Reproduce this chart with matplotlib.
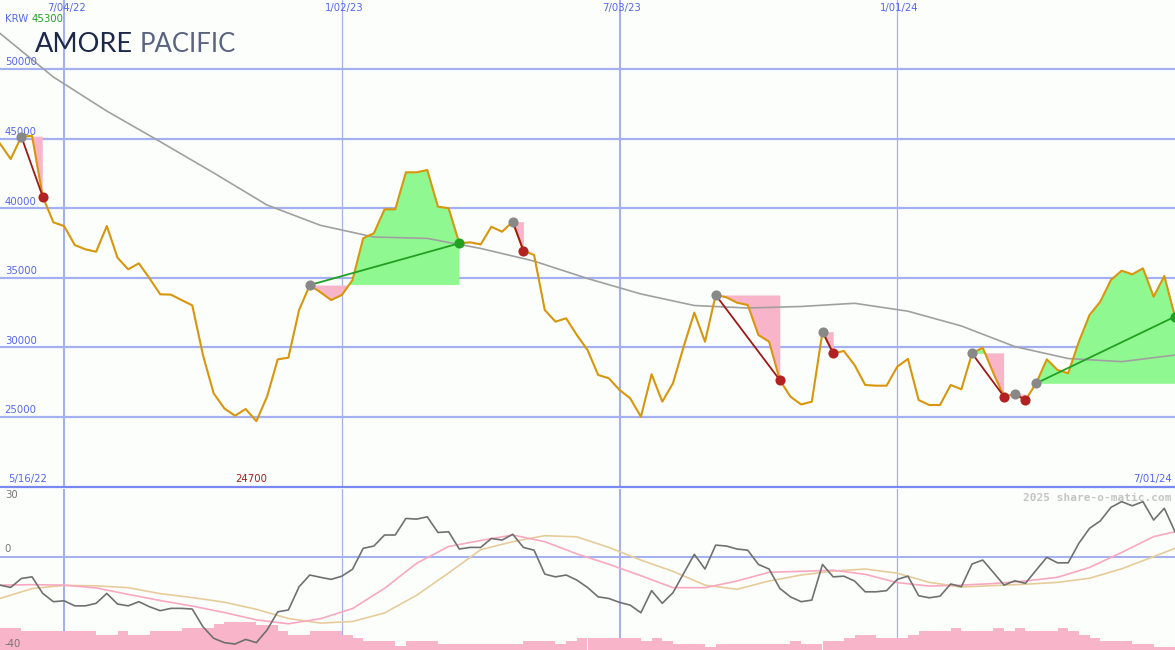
import numpy as np
import pandas as pd
import matplotlib
matplotlib.use("Agg")
import matplotlib.pyplot as plt
from matplotlib.lines import Line2D

# weekly closes, starting Monday 5/23/22
start = "2022-05-23"
price = [44640, 43535, 45140, 45200, 40830, 38985, 38720, 37356, 37045, 36875,
         38720, 36445, 35610, 36040, 34960, 33815, 33790, 33400, 33020, 29450,
         26700, 25620, 25090, 25575, 24700, 26460, 29140, 29260, 32690, 34480,
         33960, 33400, 33765, 34840, 37840, 38200, 39920, 39920, 42580, 42580,
         42745, 40110, 40000, 37480, 37550, 37400, 38670, 38310, 39030, 36950,
         36640, 32690, 31850, 32090, 30890, 29815, 28020, 27780, 26940, 26340,
         25020, 28070, 26100, 27420, 30050, 32500, 30410, 33765, 33600, 33210,
         33045, 30890, 30410, 27660, 26460, 25900, 26100, 31130, 29570, 29740,
         28735, 27300, 27250, 27250, 28620, 29170, 26220, 25860, 25860, 27300,
         26990, 29570, 29980, 28140, 26460, 26650, 26220, 27420, 29140, 28380,
         28140, 30410, 32330, 33280, 34840, 35510, 35250, 35680, 33640, 35130,
         32210]

# long moving average (read every 5 weeks)
ma_weeks = [0, 5, 10, 15, 20, 25, 30, 35, 40, 45, 50, 55, 60, 65, 70, 75,
            80, 85, 90, 95, 100, 105, 110]
ma_vals = [52565, 49425, 46980, 44780, 42540, 40230, 38770, 37930, 37830,
           37110, 36200, 34950, 33840, 33010, 32830, 32940, 33170, 32600,
           31540, 30060, 29200, 28975, 29450]

# trades: entry week / exit week
trade_entry = [2, 29, 48, 67, 77, 91, 95, 97]
trade_exit = [4, 43, 49, 73, 78, 94, 96, 110]

# lower panel oscillator
osc = [-12.2, -13.2, -9.3, -8.6, -15.8, -19.4, -19.0, -21.2, -21.2, -20.1,
       -15.8, -20.4, -21.2, -19.4, -21.6, -23.3, -22.3, -22.3, -22.6, -30.3,
       -35.3, -37.2, -37.8, -35.8, -37.2, -31.7, -23.8, -23.0, -12.9, -7.8,
       -8.8, -9.7, -8.3, -5.3, 3.8, 4.8, 9.6, 9.6, 16.8, 16.5,
       17.5, 10.7, 11.0, 3.5, 4.2, 4.2, 8.1, 7.4, 9.9, 4.2,
       3.0, -7.4, -8.6, -7.8, -10.0, -13.2, -17.3, -18.0, -19.7, -20.9,
       -24.2, -14.6, -20.1, -15.5, -7.1, 1.2, -5.2, 5.2, 4.8, 3.5,
       3.0, -3.2, -5.2, -13.6, -17.3, -19.4, -18.7, -3.2, -8.6, -8.3,
       -10.4, -15.1, -15.1, -14.6, -9.7, -8.3, -16.8, -17.7, -17.0, -11.7,
       -12.9, -3.0, -1.3, -6.7, -12.2, -10.3, -11.4, -5.7, -0.1, -2.5,
       -2.5, 6.0, 12.5, 15.7, 21.6, 24.1, 22.3, 24.1, 16.1, 21.2, 11.0]

sig_weeks = [0, 3, 6, 9, 12, 15, 18, 21, 24, 27, 30, 33, 36, 39, 42, 45, 48,
             51, 54, 57, 60, 63, 66, 69, 72, 75, 78, 81, 84, 87, 90, 93, 96,
             99, 102, 105, 108, 110]
sig_pink = [-12.2, -12.0, -12.2, -13.4, -16.2, -18.9, -21.3, -24.1, -27.3,
            -29.0, -26.8, -22.4, -13.6, -2.7, 4.6, 7.2, 9.6, 6.7, 1.4, -3.1,
            -8.1, -13.3, -13.3, -10.4, -6.6, -6.2, -5.7, -7.5, -11.1, -12.6,
            -12.2, -11.5, -10.4, -8.8, -4.5, 2.0, 8.9, 11.0]
sig_tan = [-18.0, -13.7, -12.3, -12.5, -13.3, -15.9, -17.6, -19.6, -22.7,
           -26.7, -28.7, -28.0, -24.3, -16.6, -6.9, 3.2, 6.7, 9.3, 8.8, 4.2,
           -1.3, -6.2, -12.2, -14.0, -10.4, -7.8, -6.1, -5.2, -7.0, -11.0,
           -13.0, -12.4, -11.8, -11.0, -9.2, -5.1, 0.2, 3.8]

bars = [-31, -31] + [-32.2] * 7 + [-33.9, -33.9, -32.2, -33.9, -33.9] \
    + [-32.2] * 3 + [-30.7] * 3 + [-29.3] + [-28.1] * 3 + [-29.6, -29.6, -32.2] \
    + [-33.9, -33.9] + [-32.2] * 3 + [-33.9, -35.1] + [-36.5] * 3 + [-38.7] \
    + [-36.5] * 3 + [-37.8] * 8 + [-36.5] * 3 + [-37.8, -36.5] + [-35.2] * 6 \
    + [-36.5, -35.2, -36.5] + [-37.8] * 3 + [-39] + [-37.8] * 7 + [-36.5] \
    + [-37.8, -37.8, -36.5, -36.5, -35.2, -33.9, -33.9] + [-35.2] * 3 \
    + [-33.9] + [-32.2] * 3 + [-30.7] + [-32.2] * 3 + [-30.7, -32.2, -30.7] \
    + [-32.2] * 3 + [-30.7, -32.2, -33.9, -35.2] + [-36.5] * 3 \
    + [-37.8, -37.8, -39, -39, -39.5]

price_ticks = [25000, 30000, 35000, 40000, 45000, 50000]
date_ticks = ["2022-07-04", "2023-01-02", "2023-07-03", "2024-01-01"]
first_label = "5/16/22"
currency = "KRW"
head_value = "45300"

BG = "#fcfefc"
GRID = "#a4b0f0"
BLUE = "#5566ee"

W, H = 1175, 650
dates = pd.date_range(start, periods=len(price), freq="7D")
weeks = np.arange(len(price))
price = np.array(price, dtype=float)


def week_of(d):
    return (pd.Timestamp(d) - dates[0]).days / 7.0


def fmt(d):
    d = pd.Timestamp(d)
    return f"{d.month}/{d.day:02d}/{d.strftime('%y')}"


fig = plt.figure(figsize=(W / 100, H / 100), dpi=100, facecolor=BG)
ax = fig.add_axes([0, 163 / H, 1, 487 / H])
ax2 = fig.add_axes([0, 0, 1, 161 / H])

for a in (ax, ax2):
    a.set_facecolor(BG)
    a.set_xlim(0, len(price) - 1)
    a.set_xticks([])
    a.set_yticks([])
    for s in a.spines.values():
        s.set_visible(False)
    for d in date_ticks:
        lw = 1.5 if pd.Timestamp(d).month == 7 else 0.9
        a.axvline(week_of(d), color=GRID, lw=lw, zorder=0)

# ---- price panel
ax.set_ylim(19970, 54960)
for v in price_ticks:
    ax.axhline(v, color=GRID, lw=1.6, zorder=0)
    ax.text(0.004, v + 120, f"{v}", transform=ax.get_yaxis_transform(),
            color=BLUE, fontsize=7.3, va="bottom", ha="left")

for e, x in zip(trade_entry, trade_exit):
    seg = weeks[e:x + 1]
    ps = price[e:x + 1]
    lvl = price[e]
    ax.fill_between(seg, ps, lvl, where=ps >= lvl, interpolate=True,
                    color="#90f890", lw=0, zorder=1)
    ax.fill_between(seg, ps, lvl, where=ps <= lvl, interpolate=True,
                    color="#f8b4c8", lw=0, zorder=1)

ax.plot(ma_weeks, ma_vals, color="#a0a0a0", lw=1.2, zorder=2)
ax.plot(weeks, price, color="#d8960c", lw=1.5, zorder=3)

for e, x in zip(trade_entry, trade_exit):
    win = price[x] > price[e]
    lc = "#22a022" if win else "#a01818"
    ax.plot([e, x], [price[e], price[x]], color=lc, lw=1.3, zorder=4)
    ax.plot(e, price[e], "o", ms=7.3, color="#888888", mec="none", zorder=5)
    ax.plot(x, price[x], "o", ms=7.3, color="#22a022" if win else "#b22222",
            mec="none", zorder=5)

for d in date_ticks:
    ax.text(week_of(d) + 0.2, 1 - 8 / 487, fmt(d), transform=ax.get_xaxis_transform(),
            color=BLUE, fontsize=7.3, ha="center", va="center")

ax.text(0.004, 1 - 19 / 487, currency, transform=ax.transAxes, color=BLUE,
        fontsize=7.3, va="center")
ax.text(0.027, 1 - 19 / 487, head_value, transform=ax.transAxes, color="#20a020",
        fontsize=7.3, va="center")

fig.text(35 / W, 1 - 45 / H, "AMORE", family="Lato", fontsize=19.5, color="#1d2747",
         va="center", ha="left")
fig.text(140 / W, 1 - 45 / H, "PACIFIC", family="Lato", fontsize=18.5,
         color="#5a6380", va="center", ha="left")

imin = int(np.argmin(price))
ax.text(0.007, 8 / 487, first_label, transform=ax.transAxes, color=BLUE,
        fontsize=7.3, va="center")
ax.text(imin - 0.5, 8 / 487, f"{int(price[imin])}", transform=ax.get_xaxis_transform(),
        color="#a02020", fontsize=7.3, ha="center", va="center")
ax.text(0.997, 8 / 487, fmt(dates[-1]), transform=ax.transAxes, color=BLUE,
        fontsize=7.3, ha="right", va="center")

fig.add_artist(Line2D([0, 1], [163 / H, 163 / H], color="#7888f0", lw=1.6))

# ---- oscillator panel
ax2.set_ylim(-40.4, 29.6)
ax2.axhline(0, color=GRID, lw=1.4, zorder=0)
ax2.bar(weeks, np.array(bars) + 40.4, bottom=-40.4, width=1.0, align="edge",
        color="#f8b4c8", lw=0, zorder=1)
ax2.plot(sig_weeks, sig_tan, color="#e6cc9a", lw=1.2, zorder=2)
ax2.plot(sig_weeks, sig_pink, color="#f8a8c0", lw=1.2, zorder=2)
ax2.plot(weeks, osc, color="#707070", lw=1.2, zorder=3)

ax2.text(0.004, 29.0, "30", transform=ax2.get_yaxis_transform(), color="#777777",
         fontsize=7.3, va="top")
ax2.text(0.004, 1.2, "0", transform=ax2.get_yaxis_transform(), color="#777777",
         fontsize=7.3, va="bottom")
ax2.text(0.004, -40.0, "-40", transform=ax2.get_yaxis_transform(), color="#777777",
         fontsize=7.3, va="bottom")
ax2.text(0.997, 1 - 9 / 161, "2025 share-o-matic.com", transform=ax2.transAxes,
         color="#c4c4c4", family="DejaVu Sans Mono", weight="bold", fontsize=8,
         ha="right", va="center")

fig.savefig("out.png", dpi=100, facecolor=BG)
